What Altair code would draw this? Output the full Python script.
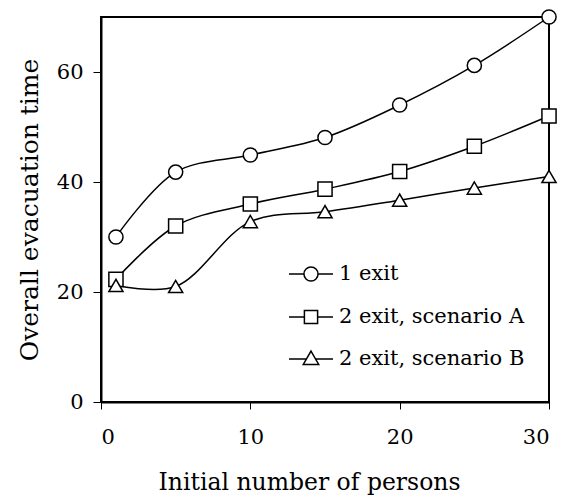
import altair as alt
import pandas as pd

persons = [1, 5, 10, 15, 20, 25, 30]
one_exit = [30.0, 41.8, 44.9, 48.1, 54.0, 61.2, 70.0]
two_exit_a = [22.3, 32.0, 36.0, 38.7, 41.9, 46.5, 52.0]
two_exit_b = [21.2, 21.0, 32.8, 34.6, 36.7, 38.9, 41.0]
series_names = ["1 exit", "2 exit, scenario A", "2 exit, scenario B"]
x_ticks = [0, 10, 20, 30]
y_ticks = [0, 20, 40, 60]

rows = []
for name, vals in zip(series_names, [one_exit, two_exit_a, two_exit_b]):
    for xv, yv in zip(persons, vals):
        rows.append({"series": name, "persons": xv, "time": yv})
df = pd.DataFrame(rows)

FONT = "DejaVu Serif"

legend_paths = [
    "M-1,0H-0.32M0.32,0H1M0.32,0A0.32,0.32,0,1,1,-0.32,0A0.32,0.32,0,1,1,0.32,0Z",
    "M-1,0H-0.3M0.3,0H1M-0.3,-0.3H0.3V0.3H-0.3Z",
    "M-1,0H-0.21M0.21,0H1M0,-0.36L0.35,0.25L-0.35,0.25Z",
]

x_enc = alt.X("persons:Q", scale=alt.Scale(domain=[0, 30], nice=False),
              axis=alt.Axis(values=x_ticks, title="Initial number of persons",
                            grid=False, tickSize=7, labelPadding=17, titlePadding=23,
                            titleX=208, titleFontSize=23.5))
y_enc = alt.Y("time:Q", scale=alt.Scale(domain=[0, 70], nice=False),
              axis=alt.Axis(values=y_ticks, title="Overall evacuation time",
                            grid=False, tickSize=8, labelPadding=10, titlePadding=14))

lines = alt.Chart(df).mark_line(interpolate="catmull-rom", color="black", strokeWidth=1.5).encode(
    x=x_enc, y=y_enc, detail="series:N"
)

points = alt.Chart(df).mark_point(filled=True, fill="white", stroke="black",
                                   strokeWidth=1.5, opacity=1, size=200).encode(
    x="persons:Q", y="time:Q",
    shape=alt.Shape("series:N", scale=alt.Scale(domain=series_names,
                                                range=["circle", "square", "triangle-up"]),
                    legend=None),
)

legend_layer = alt.Chart(df).mark_point(
    filled=False, color="black", strokeWidth=1.5, opacity=1, size=0
).encode(
    x="persons:Q", y="time:Q",
    shape=alt.Shape("series:N", scale=alt.Scale(domain=series_names, range=legend_paths),
                    legend=alt.Legend(title=None, orient="none", legendX=187, legendY=234,
                                      symbolSize=1936, symbolStrokeWidth=1.5,
                                      symbolStrokeColor="black",
                                      symbolOpacity=1,
                                      labelFont=FONT, labelFontSize=21, labelColor="black",
                                      labelOffset=5, rowPadding=9, padding=0,
                                      labelLimit=400)),
)

chart = alt.layer(lines, points, legend_layer).resolve_scale(shape="independent").properties(
    width=448, height=385,
    autosize=alt.AutoSizeParams(type="none"),
    padding={"left": 93, "top": 9, "right": 13, "bottom": 96},
).configure_view(stroke="black", strokeWidth=2).configure_axis(
    domainColor="black", domainWidth=2, tickColor="black", tickWidth=1,
    labelFont=FONT, labelFontSize=21, labelColor="black",
    titleFont=FONT, titleFontSize=25, titleColor="black", titleFontWeight="normal",
)

chart.save("out.html", embed_options={"renderer": "svg", "actions": False})
